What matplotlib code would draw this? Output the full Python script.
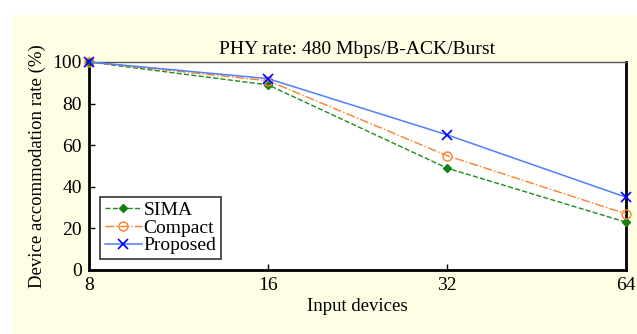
import matplotlib.pyplot as plt
from matplotlib.patches import Rectangle

plt.rcParams['font.family'] = ['Liberation Serif', 'DejaVu Serif']

devices = [8, 16, 32, 64]
sima = [100, 89, 49, 23]
compact = [100, 91, 55, 27]
proposed = [100, 92, 65, 35]

fig = plt.figure(figsize=(6.37, 3.34), dpi=100)
fig.patch.set_facecolor('white')
fig.patches.append(Rectangle((12 / 637, 0), 1, 1 - 15 / 334, transform=fig.transFigure,
                             facecolor='#fefee4', edgecolor='none', zorder=-10))

ax = fig.add_axes([89 / 637, 64 / 334, 537 / 637, 208 / 334])
ax.set_facecolor('white')

ax.plot(devices, sima, color='#1e8c1e', ls='--', lw=1, marker='D', ms=4,
        mfc='#138013', mec='#138013', label='SIMA', clip_on=False, zorder=3)
ax.plot(devices, compact, color='#ff7f27', ls='-.', lw=1, marker='o', ms=6.5,
        mfc='none', mec='#ff7f27', label='Compact', clip_on=False, zorder=4)
ax.plot(devices, proposed, color='#4d7fff', ls='-', lw=1.1, marker='x', ms=7,
        mec='#0000ff', mew=1.2, label='Proposed', clip_on=False, zorder=5)

ax.set_xscale('log', base=2)
ax.set_xlim(8, 64)
ax.set_ylim(0, 100)
ax.set_xticks(devices)
ax.set_xticklabels([str(d) for d in devices])
ax.minorticks_off()
ax.set_yticks(range(0, 101, 20))
ax.tick_params(direction='in', labelsize=14, length=4, width=1, pad=5)

for side in ['left', 'bottom', 'right']:
    ax.spines[side].set_linewidth(2)
    ax.spines[side].set_color('black')
ax.spines['top'].set_linewidth(1)
ax.spines['top'].set_color('#555555')

ax.set_title('PHY rate: 480 Mbps/B-ACK/Burst', fontsize=14, pad=6)
ax.set_xlabel('Input devices', fontsize=13.5, labelpad=3)
ax.set_ylabel('Device accommodation rate (%)', fontsize=13.5, labelpad=5)

leg = ax.legend(loc='lower left', fontsize=14, fancybox=False, framealpha=1,
                edgecolor='#333333', borderpad=0.25, handlelength=1.9,
                handletextpad=0.1, labelspacing=0.0, borderaxespad=0.55)
leg.get_frame().set_linewidth(1.2)

fig.savefig('out.png', dpi=100)
